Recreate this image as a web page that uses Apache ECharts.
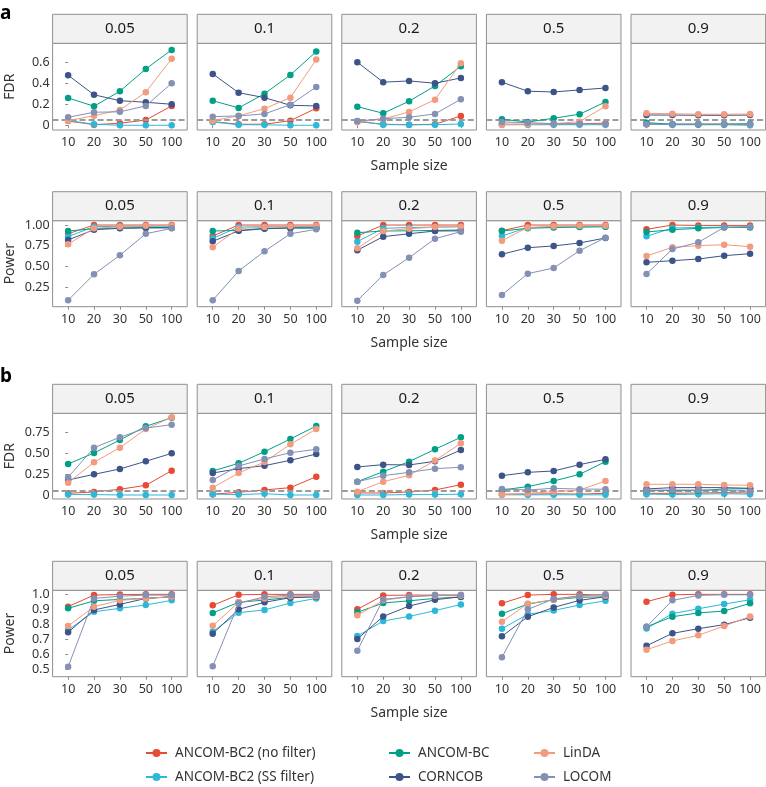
<!DOCTYPE html>
<html>
<head>
<meta charset="utf-8">
<script src="https://cdn.jsdelivr.net/npm/echarts@6/dist/echarts.min.js"></script>
<style>
  html, body { margin: 0; padding: 0; background: #fff; }
  #chart { width: 766px; height: 787px; }
</style>
</head>
<body>
<div id="chart"></div>
<script>
// sample sizes (x categories) and facet labels (proportion of differentially abundant taxa)
const SIZES = ['10', '20', '30', '50', '100'];
const FACETS = ['0.05', '0.1', '0.2', '0.5', '0.9'];
const METHODS = ['ANCOM-BC2 (no filter)', 'ANCOM-BC2 (SS filter)', 'ANCOM-BC', 'CORNCOB', 'LinDA', 'LOCOM'];
const COLORS = ['#E64B35', '#2DB8D8', '#00A087', '#3C5488', '#F39B7F', '#8491B4'];

// y tick values / labels per row
const FDR_A_TICKS = [0, 0.2, 0.4, 0.6];
const FDR_A_LABELS = ['0', '0.2', '0.4', '0.6'];
const POWER_A_TICKS = [0.25, 0.5, 0.75, 1];
const POWER_A_LABELS = ['0.25', '0.50', '0.75', '1.00'];
const FDR_B_TICKS = [0, 0.25, 0.5, 0.75];
const FDR_B_LABELS = ['0', '0.25', '0.50', '0.75'];
const POWER_B_TICKS = [0.5, 0.6, 0.7, 0.8, 0.9, 1.0];
const POWER_B_LABELS = ['0.5', '0.6', '0.7', '0.8', '0.9', '1.0'];

// ---- a: FDR (one row per facet 0.05 .. 0.9, values for n = 10,20,30,50,100)
const aFdrNoFilter = [
  [0.04, 0.006, 0.019, 0.05, 0.184],
  [0.035, 0.01, 0.01, 0.044, 0.162],
  [0.035, 0.01, 0.005, 0.01, 0.089],
  [0.01, 0.01, 0.01, 0.015, 0.02],
  [0.01, 0.01, 0.01, 0.01, 0.01]
];
const aFdrSsFilter = [
  [0.045, 0.01, 0.0, 0.0, 0.0],
  [0.031, 0.005, 0.005, 0.0, 0.0],
  [0.04, 0.006, 0.005, 0.005, 0.012],
  [0.005, 0.005, 0.005, 0.005, 0.005],
  [0.015, 0.005, 0.005, 0.005, 0.0]
];
const aFdrAncombc = [
  [0.26, 0.181, 0.324, 0.536, 0.717],
  [0.234, 0.165, 0.3, 0.479, 0.701],
  [0.177, 0.114, 0.229, 0.374, 0.562],
  [0.057, 0.031, 0.067, 0.105, 0.222],
  [0.025, 0.01, 0.01, 0.01, 0.015]
];
const aFdrCorncob = [
  [0.476, 0.29, 0.234, 0.219, 0.2],
  [0.489, 0.31, 0.263, 0.19, 0.184],
  [0.6, 0.41, 0.422, 0.4, 0.45],
  [0.41, 0.324, 0.317, 0.336, 0.355],
  [0.098, 0.097, 0.095, 0.095, 0.097]
];
const aFdrLinda = [
  [0.044, 0.091, 0.146, 0.314, 0.634],
  [0.044, 0.09, 0.158, 0.263, 0.625],
  [0.031, 0.06, 0.127, 0.244, 0.59],
  [0.006, 0.01, 0.015, 0.034, 0.181],
  [0.114, 0.11, 0.105, 0.105, 0.107]
];
const aFdrLocom = [
  [0.076, 0.124, 0.128, 0.184, 0.4],
  [0.082, 0.089, 0.108, 0.196, 0.365],
  [0.038, 0.063, 0.076, 0.108, 0.248],
  [0.031, 0.025, 0.015, 0.015, 0.01],
  [0.01, 0.01, 0.01, 0.01, 0.01]
];

// ---- a: Power
const aPowNoFilter = [
  [0.895, 1.0, 1.0, 1.0, 1.0],
  [0.868, 1.0, 1.0, 1.0, 1.0],
  [0.868, 1.0, 1.0, 1.0, 1.0],
  [0.932, 1.0, 1.0, 1.0, 1.0],
  [0.948, 1.0, 0.995, 0.995, 0.995]
];
const aPowSsFilter = [
  [0.86, 0.98, 0.985, 0.985, 0.985],
  [0.84, 0.975, 0.98, 0.98, 0.98],
  [0.8, 0.96, 0.97, 0.975, 0.98],
  [0.868, 0.97, 0.975, 0.98, 0.98],
  [0.864, 0.964, 0.97, 0.975, 0.975]
];
const aPowAncombc = [
  [0.928, 0.955, 0.965, 0.97, 0.97],
  [0.928, 0.935, 0.96, 0.965, 0.965],
  [0.908, 0.928, 0.93, 0.935, 0.94],
  [0.928, 0.96, 0.97, 0.975, 0.98],
  [0.916, 0.944, 0.96, 0.97, 0.97]
];
const aPowCorncob = [
  [0.82, 0.944, 0.96, 0.965, 0.965],
  [0.804, 0.93, 0.955, 0.965, 0.965],
  [0.696, 0.86, 0.895, 0.928, 0.93],
  [0.648, 0.727, 0.748, 0.784, 0.844],
  [0.551, 0.571, 0.591, 0.631, 0.655]
];
const aPowLinda = [
  [0.77, 0.96, 0.98, 0.99, 0.995],
  [0.732, 0.958, 0.975, 0.985, 0.99],
  [0.72, 0.928, 0.955, 0.975, 0.98],
  [0.812, 0.97, 0.985, 0.99, 0.99],
  [0.627, 0.732, 0.752, 0.763, 0.739]
];
const aPowLocom = [
  [0.095, 0.407, 0.636, 0.895, 0.96],
  [0.095, 0.447, 0.684, 0.895, 0.948],
  [0.09, 0.399, 0.607, 0.835, 0.92],
  [0.159, 0.415, 0.483, 0.691, 0.848],
  [0.411, 0.711, 0.792, 0.972, 0.98]
];

// ---- b: FDR
const bFdrNoFilter = [
  [0.02, 0.036, 0.068, 0.116, 0.291],
  [0.01, 0.032, 0.06, 0.088, 0.219],
  [0.024, 0.024, 0.036, 0.06, 0.123],
  [0.01, 0.01, 0.015, 0.01, 0.02],
  [0.02, 0.02, 0.024, 0.028, 0.024]
];
const bFdrSsFilter = [
  [0.005, 0.005, 0.0, 0.0, 0.0],
  [0.01, 0.005, 0.015, 0.0, 0.0],
  [0.0, 0.0, 0.005, 0.005, 0.01],
  [0.002, 0.002, 0.002, 0.002, 0.002],
  [0.01, 0.005, 0.01, 0.015, 0.01]
];
const bFdrAncombc = [
  [0.371, 0.502, 0.658, 0.821, 0.925],
  [0.287, 0.379, 0.518, 0.67, 0.825],
  [0.159, 0.279, 0.399, 0.546, 0.69],
  [0.06, 0.1, 0.167, 0.247, 0.399],
  [0.056, 0.052, 0.052, 0.072, 0.075]
];
const bFdrCorncob = [
  [0.179, 0.247, 0.311, 0.403, 0.498],
  [0.263, 0.315, 0.351, 0.415, 0.49],
  [0.335, 0.363, 0.359, 0.403, 0.538],
  [0.231, 0.271, 0.287, 0.363, 0.427],
  [0.072, 0.088, 0.088, 0.088, 0.08]
];
const bFdrLinda = [
  [0.147, 0.391, 0.566, 0.789, 0.93],
  [0.088, 0.263, 0.395, 0.606, 0.789],
  [0.04, 0.159, 0.235, 0.411, 0.618],
  [0.005, 0.02, 0.04, 0.06, 0.167],
  [0.128, 0.128, 0.128, 0.12, 0.116]
];
const bFdrLocom = [
  [0.212, 0.566, 0.69, 0.8, 0.841],
  [0.179, 0.347, 0.431, 0.506, 0.546],
  [0.159, 0.231, 0.271, 0.315, 0.331],
  [0.072, 0.06, 0.08, 0.07, 0.07],
  [0.056, 0.06, 0.06, 0.056, 0.044]
];

// ---- b: Power
const bPowNoFilter = [
  [0.918, 0.995, 0.999, 1.0, 1.0],
  [0.927, 0.997, 1.0, 1.0, 1.0],
  [0.9, 0.993, 0.995, 0.995, 0.995],
  [0.94, 0.995, 1.0, 1.0, 0.995],
  [0.951, 0.997, 1.0, 1.0, 1.0]
];
const bPowSsFilter = [
  [0.762, 0.884, 0.907, 0.929, 0.96],
  [0.751, 0.878, 0.896, 0.942, 0.973],
  [0.722, 0.822, 0.853, 0.891, 0.933],
  [0.771, 0.867, 0.893, 0.929, 0.957],
  [0.773, 0.871, 0.904, 0.935, 0.964]
];
const bPowAncombc = [
  [0.907, 0.957, 0.966, 0.973, 0.984],
  [0.876, 0.947, 0.962, 0.98, 0.984],
  [0.88, 0.942, 0.957, 0.973, 0.982],
  [0.871, 0.935, 0.964, 0.98, 0.984],
  [0.784, 0.851, 0.876, 0.889, 0.94]
];
const bPowCorncob = [
  [0.747, 0.896, 0.933, 0.973, 0.984],
  [0.738, 0.9, 0.947, 0.978, 0.984],
  [0.702, 0.853, 0.922, 0.964, 0.984],
  [0.72, 0.851, 0.913, 0.96, 0.984],
  [0.657, 0.74, 0.771, 0.798, 0.844]
];
const bPowLinda = [
  [0.789, 0.918, 0.96, 0.973, 0.984],
  [0.791, 0.947, 0.973, 0.988, 0.988],
  [0.86, 0.96, 0.984, 0.991, 0.991],
  [0.818, 0.938, 0.964, 0.987, 0.991],
  [0.631, 0.689, 0.727, 0.789, 0.853]
];
const bPowLocom = [
  [0.517, 0.973, 0.988, 0.995, 0.995],
  [0.52, 0.94, 0.984, 0.995, 0.995],
  [0.624, 0.967, 0.984, 0.995, 0.995],
  [0.58, 0.9, 0.969, 0.991, 1.0],
  [0.784, 0.96, 0.993, 0.997, 0.997]
];

const FDR_LINE = 0.05;

// layout
const FONT = '"Noto Sans", sans-serif';
const FRAME = '#8f8f8f';
const TEXT = '#333';
const PANEL_X0 = 52.6, PANEL_STEP = 144.6, PANEL_W = 134.6, STRIP_H = 29;

const rows = [
  { top: 43.3, height: 86.7, min: -0.045, max: 0.78, ticks: FDR_A_TICKS, labels: FDR_A_LABELS, name: 'FDR', dashed: true,
    sets: [aFdrNoFilter, aFdrSsFilter, aFdrAncombc, aFdrCorncob, aFdrLinda, aFdrLocom] },
  { top: 220.7, height: 86, min: 0.017, max: 1.052, ticks: POWER_A_TICKS, labels: POWER_A_LABELS, name: 'Power', dashed: false,
    sets: [aPowNoFilter, aPowSsFilter, aPowAncombc, aPowCorncob, aPowLinda, aPowLocom] },
  { top: 413.3, height: 85.7, min: -0.048, max: 0.977, ticks: FDR_B_TICKS, labels: FDR_B_LABELS, name: 'FDR', dashed: true,
    sets: [bFdrNoFilter, bFdrSsFilter, bFdrAncombc, bFdrCorncob, bFdrLinda, bFdrLocom] },
  { top: 590.3, height: 86.4, min: 0.451, max: 1.027, ticks: POWER_B_TICKS, labels: POWER_B_LABELS, name: 'Power', dashed: false,
    sets: [bPowNoFilter, bPowSsFilter, bPowAncombc, bPowCorncob, bPowLinda, bPowLocom] }
];

const grid = [], xAxis = [], yAxis = [], series = [], graphic = [];

rows.forEach((row, r) => {
  FACETS.forEach((facet, p) => {
    const idx = grid.length;
    const left = PANEL_X0 + p * PANEL_STEP;
    grid.push({
      left: left, top: row.top, width: PANEL_W, height: row.height,
      show: true, borderColor: FRAME, borderWidth: 1, backgroundColor: '#fff'
    });
    xAxis.push({
      type: 'value', gridIndex: idx, min: -0.6, max: 4.6,
      axisLine: { show: false }, splitLine: { show: false },
      axisTick: { show: true, length: 3, lineStyle: { color: FRAME }, customValues: [0, 1, 2, 3, 4] },
      axisLabel: {
        show: true, margin: 6, fontFamily: FONT, fontSize: 12.5, color: TEXT,
        customValues: [0, 1, 2, 3, 4], formatter: v => SIZES[Math.round(v)]
      },
      name: p === 2 ? 'Sample size' : '', nameLocation: 'middle', nameGap: 29,
      nameTextStyle: { fontFamily: FONT, fontSize: 14, color: TEXT }
    });
    yAxis.push({
      type: 'value', gridIndex: idx, min: row.min, max: row.max,
      axisLine: { show: false }, splitLine: { show: false },
      axisTick: { show: p === 0, length: 3, lineStyle: { color: FRAME }, customValues: row.ticks },
      axisLabel: {
        show: p === 0, margin: 3, fontFamily: FONT, fontSize: 12.5, color: TEXT,
        customValues: row.ticks,
        formatter: v => {
          const i = row.ticks.findIndex(t => Math.abs(t - v) < 1e-9);
          return i >= 0 ? row.labels[i] : '';
        }
      },
      name: p === 0 ? row.name : '', nameLocation: 'middle', nameGap: 36,
      nameTextStyle: { fontFamily: FONT, fontSize: 14, color: TEXT }
    });

    row.sets.forEach((set, m) => {
      const s = {
        name: METHODS[m], type: 'line', xAxisIndex: idx, yAxisIndex: idx,
        data: SIZES.map((_, i) => [i, set[p][i]]),
        symbol: 'circle', symbolSize: 6.5, showSymbol: true,
        lineStyle: { color: COLORS[m], width: 1 },
        itemStyle: { color: COLORS[m] },
        emphasis: { disabled: true }, silent: true, animation: false,
        z: 3 + m
      };
      if (row.dashed && m === 0) {
        s.markLine = {
          silent: true, symbol: 'none', animation: false,
          label: { show: false },
          lineStyle: { color: '#9b9b9b', type: [6, 3], width: 1.8 },
          data: [{ yAxis: FDR_LINE }]
        };
      }
      series.push(s);
    });

    // facet strip
    graphic.push({
      type: 'rect', silent: true,
      shape: { x: left, y: row.top - STRIP_H, width: PANEL_W, height: STRIP_H },
      style: { fill: '#f2f2f2', stroke: FRAME, lineWidth: 1 }
    });
    graphic.push({
      type: 'text', silent: true,
      x: left + PANEL_W / 2, y: row.top - STRIP_H / 2,
      style: { text: facet, font: '15px ' + FONT, fill: '#1a1a1a', textAlign: 'center', textVerticalAlign: 'middle' }
    });
  });
});

graphic.push({ type: 'text', x: 0, y: 4, style: { text: 'a', font: 'bold 19px ' + FONT, fill: '#000' } });
graphic.push({ type: 'text', x: 0, y: 367, style: { text: 'b', font: 'bold 19px ' + FONT, fill: '#000' } });

// legend: 3 columns x 2 rows, filled by column
const LEGEND_COLS = [145, 388, 533];
const LEGEND_ROWS = [746, 770];
const legend = METHODS.map((name, m) => ({
  data: [name],
  left: LEGEND_COLS[Math.floor(m / 2)], top: LEGEND_ROWS[m % 2],
  orient: 'horizontal', itemWidth: 21, itemHeight: 10, padding: 0,
  selectedMode: false,
  textStyle: { fontFamily: FONT, fontSize: 13.5, color: TEXT, padding: [0, 0, 0, 3] }
}));

const chart = echarts.init(document.getElementById('chart'), null, { renderer: 'canvas' });
chart.setOption({
  animation: false,
  backgroundColor: '#fff',
  grid, xAxis, yAxis, series, legend, graphic
});
</script>
</body>
</html>
